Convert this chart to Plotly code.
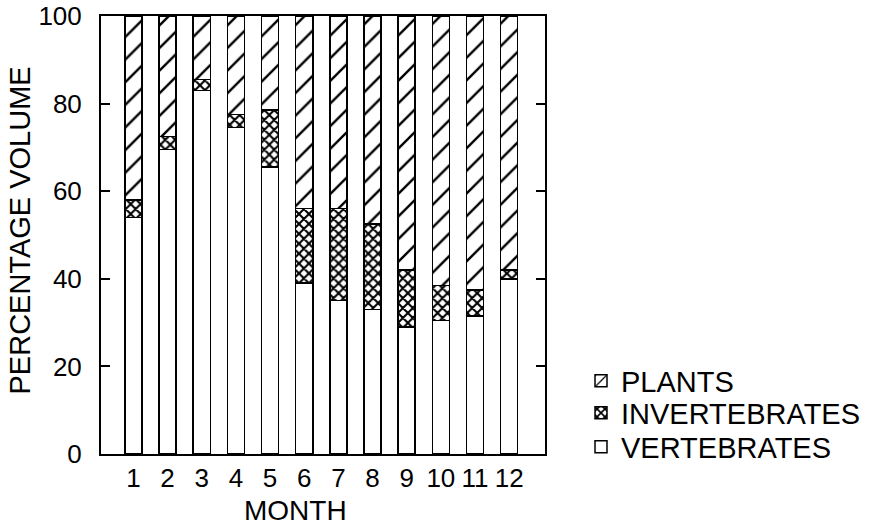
import plotly.graph_objects as go

months = ["1", "2", "3", "4", "5", "6", "7", "8", "9", "10", "11", "12"]
vertebrates = [54, 69.5, 83, 74.5, 65.5, 39, 35, 33, 29, 30.5, 31.5, 40]
invertebrates = [4, 3, 2.5, 3, 13, 17, 21, 19.5, 13, 8, 6, 2]
plants = [round(100 - v - i, 1) for v, i in zip(vertebrates, invertebrates)]
y_ticks = [0, 20, 40, 60, 80, 100]

FONT = "Liberation Sans, Arial, Helvetica, sans-serif"
x = list(range(1, 13))

# plot area targeted at page x 101..545, y 16..454 (body margin removed below)
W, H = 873, 526
PX0, PX1, PY0, PY1 = 101, 545, 16, 454
L, R, T, B = PX0, W - PX1, PY0, H - PY1


def px(page_x):
    return (page_x - PX0) / (PX1 - PX0)


def py(page_y):
    return (PY1 - page_y) / (PY1 - PY0)


fig = go.Figure()
line = dict(color="black", width=1.5)
fig.add_trace(go.Bar(x=x, y=vertebrates, name="VERTEBRATES", width=0.5, legend="legend3",
                     marker=dict(color="white", line=line)))
fig.add_trace(go.Bar(x=x, y=invertebrates, name="INVERTEBRATES", width=0.5, legend="legend2",
                     marker=dict(color="white", line=line,
                                 pattern=dict(shape="x", fgcolor="black", bgcolor="white",
                                              fgopacity=1, size=7, solidity=0.5))))
fig.add_trace(go.Bar(x=x, y=plants, name="PLANTS", width=0.5, legend="legend",
                     marker=dict(color="white", line=line,
                                 pattern=dict(shape="/", fgcolor="black", bgcolor="white",
                                              fgopacity=1, size=16, solidity=0.15))))

leg_common = dict(xanchor="left", yanchor="middle", font=dict(size=29, color="black"),
                  bgcolor="rgba(0,0,0,0)", borderwidth=0)
LEGX = px(581)

fig.update_layout(
    barmode="stack",
    width=W, height=H,
    margin=dict(l=L, r=R, t=T, b=B, autoexpand=False),
    paper_bgcolor="white", plot_bgcolor="white",
    font=dict(family=FONT, size=26, color="black"),
    showlegend=True,
    legend=dict(x=LEGX, y=py(381), **leg_common),
    legend2=dict(x=LEGX, y=py(413), **leg_common),
    legend3=dict(x=LEGX, y=py(447), **leg_common),
    xaxis=dict(range=[0.05, 13.05], tickmode="array", tickvals=x, ticktext=months,
               showline=True, linecolor="black", linewidth=2, mirror=True,
               ticks="", showgrid=False, zeroline=False, automargin=False,
               ticklabeloverflow="allow", ticklabelstandoff=0, tickfont=dict(size=26)),
    yaxis=dict(range=[0, 100], tickmode="array", tickvals=y_ticks,
               showline=True, linecolor="black", linewidth=2, mirror="ticks",
               ticks="inside", ticklen=9, tickwidth=1.5, tickcolor="black",
               showgrid=False, zeroline=False, automargin=False,
               ticklabeloverflow="allow", ticklabelstandoff=12, tickfont=dict(size=26)),
    annotations=[
        dict(text="MONTH", xref="paper", yref="paper", x=px(295.5), y=py(510),
             xanchor="center", yanchor="middle", showarrow=False,
             font=dict(size=28, color="black")),
        dict(text="PERCENTAGE VOLUME", xref="paper", yref="paper", x=px(19.5), y=py(231),
             xanchor="center", yanchor="middle", showarrow=False, textangle=-90,
             font=dict(size=29, color="black")),
    ],
)

fig.write_html("out.html", config={"displayModeBar": False})

# remove the browser's default 8px body margin and any scrolling
with open("out.html", "r", encoding="utf-8") as f:
    html = f.read()
html = html.replace("<body>", '<body style="margin:0;padding:0;overflow:hidden;">', 1)
with open("out.html", "w", encoding="utf-8") as f:
    f.write(html)
